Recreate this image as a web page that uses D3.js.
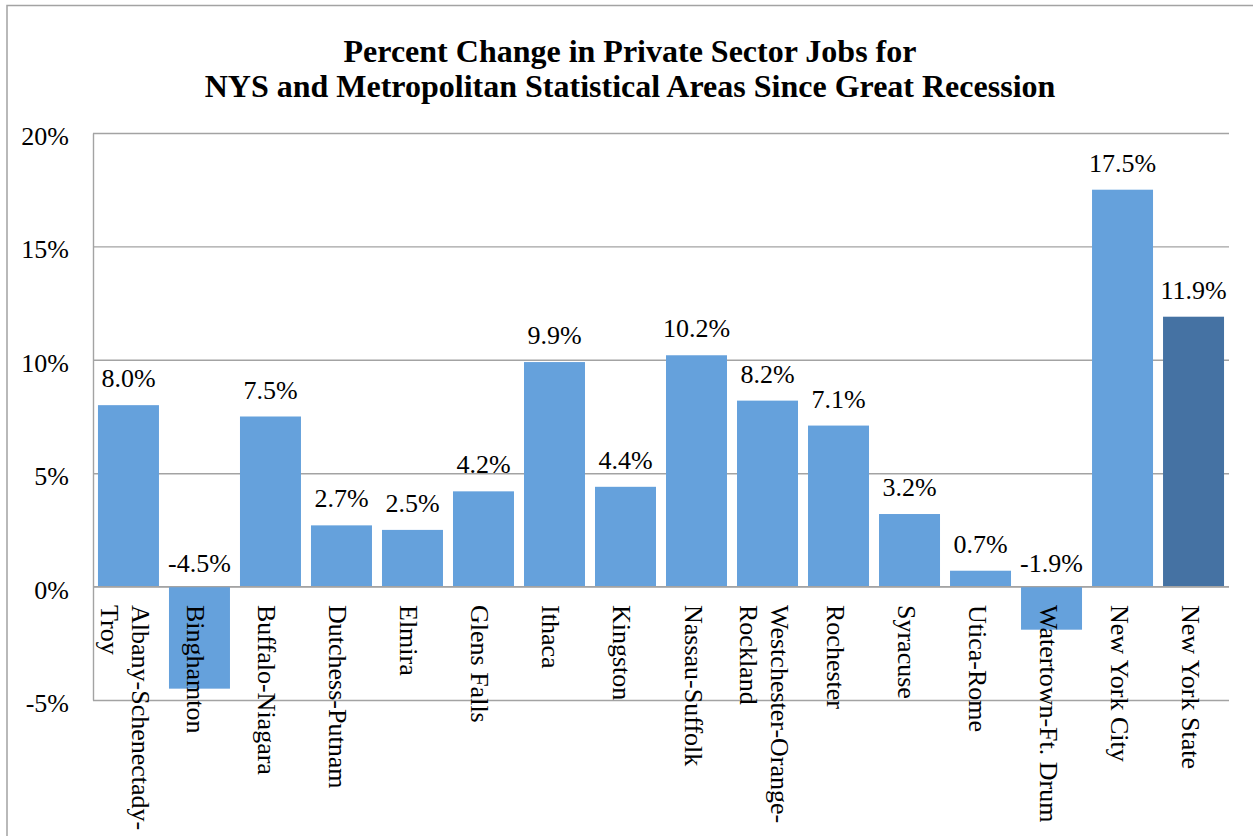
<!DOCTYPE html>
<html>
<head>
<meta charset="utf-8">
<script src="https://cdn.jsdelivr.net/npm/d3@7"></script>
<style>
  html, body { margin: 0; padding: 0; background: #fff; }
  svg { display: block; }
  svg text { font-family: "Liberation Serif", "Times New Roman", serif; }
</style>
</head>
<body>
<svg id="chart" width="1253" height="836"></svg>
<script>
// Metro areas plus NYC and the state total
const categories = [
  "Albany-Schenectady-Troy", "Binghamton", "Buffalo-Niagara", "Dutchess-Putnam",
  "Elmira", "Glens Falls", "Ithaca", "Kingston", "Nassau-Suffolk",
  "Westchester-Orange-Rockland", "Rochester", "Syracuse", "Utica-Rome",
  "Watertown-Ft. Drum", "New York City", "New York State"
];
const pctChange = [8.0, -4.5, 7.5, 2.7, 2.5, 4.2, 9.9, 4.4, 10.2, 8.2, 7.1, 3.2, 0.7, -1.9, 17.5, 11.9];
const yTicks = [-5, 0, 5, 10, 15, 20];
const titleLines = [
  "Percent Change in Private Sector Jobs for",
  "NYS and Metropolitan Statistical Areas Since Great Recession"
];

const svg = d3.select("#chart");
const plotLeft = 93, plotRight = 1229, plotTop = 133, plotBottom = 700;
const gridColor = "#a3a3a3";
const barColor = "#65a1dc";
const totalColor = "#4572a3";
const serif = "Liberation Serif, Times New Roman, serif";

// outer frame (right and bottom edges run off the canvas)
svg.append("rect")
  .attr("x", 7).attr("y", 5.5)
  .attr("width", 1300).attr("height", 900)
  .attr("fill", "none").attr("stroke", gridColor).attr("stroke-width", 1.5);

// title
svg.append("text")
  .attr("x", 630).attr("y", 62)
  .attr("text-anchor", "middle")
  .attr("font-family", serif)
  .attr("font-weight", "bold").attr("font-size", 32)
  .selectAll("tspan").data(titleLines).join("tspan")
  .attr("x", 630).attr("dy", (d, i) => i === 0 ? 0 : 35)
  .text(d => d);

const x = d3.scaleBand().domain(categories).range([plotLeft, plotRight])
  .paddingInner(0.141).paddingOuter(0.07);
const y = d3.scaleLinear().domain([-5, 20]).range([plotBottom, plotTop]);

// horizontal gridlines
svg.append("g")
  .attr("transform", `translate(${plotLeft},0)`)
  .call(d3.axisLeft(y).tickValues(yTicks).tickSize(-(plotRight - plotLeft)).tickFormat(""))
  .call(g => g.select(".domain").remove())
  .call(g => g.selectAll(".tick line").attr("stroke", gridColor).attr("stroke-width", 1.4));

// bars
svg.append("g").selectAll("rect")
  .data(categories.map((c, i) => ({ c, v: pctChange[i], i })))
  .join("rect")
  .attr("x", d => x(d.c))
  .attr("width", x.bandwidth())
  .attr("y", d => y(Math.max(0, d.v)))
  .attr("height", d => Math.abs(y(d.v) - y(0)))
  .attr("fill", d => d.i === categories.length - 1 ? totalColor : barColor);

// zero line
svg.append("line")
  .attr("x1", plotLeft).attr("x2", plotRight)
  .attr("y1", y(0)).attr("y2", y(0))
  .attr("stroke", gridColor).attr("stroke-width", 1.4);

// y axis
svg.append("g")
  .attr("transform", `translate(${plotLeft},0)`)
  .call(d3.axisLeft(y).tickValues(yTicks).tickSize(0).tickSizeOuter(0).tickPadding(24)
    .tickFormat(d => d + "%"))
  .attr("font-family", serif)
  .call(g => g.select(".domain").attr("stroke", gridColor).attr("stroke-width", 1.4))
  .call(g => g.selectAll(".tick text")
    .attr("font-family", serif)
    .attr("font-size", 26).attr("fill", "#000")
    .attr("dy", 11.5));

// value labels
svg.append("g").selectAll("text")
  .data(categories.map((c, i) => ({ c, v: pctChange[i] })))
  .join("text")
  .attr("x", d => x(d.c) + x.bandwidth() / 2)
  .attr("y", d => d.v >= 0 ? y(d.v) - 18 : y(0) - 15)
  .attr("text-anchor", "middle")
  .attr("font-family", serif)
  .attr("font-size", 26)
  .text(d => d.v.toFixed(1) + "%");

// rotated category labels; long names break after their last hyphen
function labelLines(name) {
  const parts = name.split("-");
  if (parts.length > 2) {
    return [parts.slice(0, -1).join("-") + "-", parts[parts.length - 1]];
  }
  return [name];
}
const catG = svg.append("g");
categories.forEach(c => {
  const cx = x(c) + x.bandwidth() / 2;
  const lines = labelLines(c);
  const t = catG.append("text")
    .attr("transform", `translate(${cx},605) rotate(90)`)
    .attr("font-family", serif)
    .attr("font-size", 26);
  lines.forEach((ln, i) => {
    const off = (i - (lines.length - 1) / 2) * 31;
    t.append("tspan").attr("x", 0).attr("y", 9 + 3 + off).text(ln);
  });
});
</script>
</body>
</html>
